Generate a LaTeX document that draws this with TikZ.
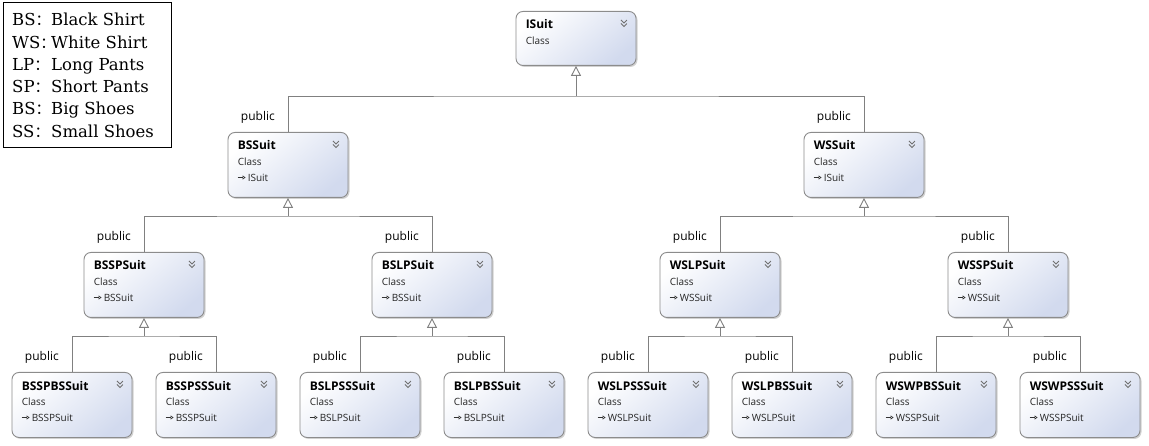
\documentclass[tikz,border=0pt]{standalone}
\usepackage{fontspec}
\setmainfont{Open Sans}
\newfontfamily\legfont{DejaVu Serif}
\newfontfamily\cjk{Noto Sans CJK SC}
\usetikzlibrary{shadows,arrows.meta,calc}
\definecolor{boxblue}{HTML}{D2DAEE}
\definecolor{boxline}{HTML}{8C8C8C}
\definecolor{connc}{HTML}{808080}
\definecolor{chevc}{HTML}{707070}
\tikzset{
  cbox/.style={draw=boxline, line width=0.9pt, rounded corners=7pt,
    minimum width=120pt, anchor=north, inner sep=0pt,
    top color=white, bottom color=boxblue, shading angle=40,
    drop shadow={shadow xshift=1.5pt, shadow yshift=-1.5pt, opacity=0.3, fill=black!60}},
  ttl/.style={anchor=base west, inner sep=0pt, font=\bfseries\fontsize{12}{14}\selectfont},
  sub/.style={anchor=base west, inner sep=0pt, font=\fontsize{10}{12}\selectfont, text=black!85},
  pub/.style={anchor=east, inner sep=0pt, font=\fontsize{12}{14}\selectfont},
  chev/.style={draw=chevc, line width=0.8pt},
  conn/.style={draw=connc, line width=0.9pt},
  inh/.style={conn, -{Triangle[open, length=10pt, width=10pt, line width=0.9pt]}},
  minarr/.style={draw=black!80, line width=0.6pt, -{Triangle[open, length=3pt, width=4pt, line width=0.6pt]}},
  legtext/.style={anchor=base west, inner sep=0pt, font=\legfont\fontsize{16.5}{20}\selectfont},
}
\newcommand\umlbox[5]{% name, x, top, height, title
  \node[cbox, minimum height=#4pt] (#1) at (#2,#3) {};
  \node[ttl] (#1-t) at ($(#1.north west)+(10,18)$) {#5};
  \node[sub] (#1-c) at ($(#1.north west)+(10,34)$) {Class};
  \draw[chev] ($(#1.north east)+(-15.5,9)$) -- ++(3,3) -- ++(3,-3);
  \draw[chev] ($(#1.north east)+(-15.5,12.5)$) -- ++(3,3) -- ++(3,-3);
}
\newcommand\umlchild[6]{% name, x, top, title, parent
  \umlbox{#1}{#2}{#3}{65}{#4}
  \coordinate (#1-a) at ($(#1.north west)+(10,45.5)$);
  \coordinate (#1-b) at ($(#1.north west)+(18,45.5)$);
  \draw[minarr] (#1-a) -- (#1-b);
  \node[sub] (#1-p) at ($(#1.north west)+(20,49.5)$) {#5};
  \node[pub] (#1-l) at ($(#1.north)+(-13,-15)$) {public};
}
\newcommand\family[3]{% parent, child1, child2
  \coordinate (#1-j) at ($(#1.south |- #2.north)+(0,-36)$);
  \draw[conn] (#2.north) |- (#1-j) -| (#3.north);
  \draw[inh] (#1-j) -- (#1.south);
}
\begin{document}
\begin{tikzpicture}[x=1pt, y=-1pt]
\useasboundingbox (0,0) rectangle (1149,446);
% legend
\node[draw=black, line width=0.9pt, anchor=north west, minimum width=168pt, minimum height=145pt, inner sep=0pt] (legend) at (2.5,2) {};
\foreach \i/\a/\b in {1/BS/Black Shirt, 2/WS/White Shirt, 3/LP/Long Pants, 4/SP/Short Pants, 5/BS/Big Shoes, 6/SS/Small Shoes}{
  \node[legtext] (leg\i) at (12, {26+22.25*(\i-1)}) {\makebox[39pt][l]{\a\makebox[0pt][l]{\cjk\fontsize{15}{18}\selectfont ：}}\b};
}
% classes
\umlbox{ISuit}{576}{11}{54}{ISuit}
\umlchild{BSSuit}{288}{132}{BSSuit}{ISuit}{}
\umlchild{WSSuit}{864}{132}{WSSuit}{ISuit}{}
\umlchild{BSSPSuit}{144}{252}{BSSPSuit}{BSSuit}{}
\umlchild{BSLPSuit}{432}{252}{BSLPSuit}{BSSuit}{}
\umlchild{WSLPSuit}{720}{252}{WSLPSuit}{WSSuit}{}
\umlchild{WSSPSuit}{1008}{252}{WSSPSuit}{WSSuit}{}
\umlchild{BSSPBSSuit}{72}{372}{BSSPBSSuit}{BSSPSuit}{}
\umlchild{BSSPSSSuit}{216}{372}{BSSPSSSuit}{BSSPSuit}{}
\umlchild{BSLPSSSuit}{360}{372}{BSLPSSSuit}{BSLPSuit}{}
\umlchild{BSLPBSSuit}{504}{372}{BSLPBSSuit}{BSLPSuit}{}
\umlchild{WSLPSSSuit}{648}{372}{WSLPSSSuit}{WSLPSuit}{}
\umlchild{WSLPBSSuit}{792}{372}{WSLPBSSuit}{WSLPSuit}{}
\umlchild{WSWPBSSuit}{936}{372}{WSWPBSSuit}{WSSPSuit}{}
\umlchild{WSWPSSSuit}{1080}{372}{WSWPSSSuit}{WSSPSuit}{}
% inheritance
\family{ISuit}{BSSuit}{WSSuit}
\family{BSSuit}{BSSPSuit}{BSLPSuit}
\family{WSSuit}{WSLPSuit}{WSSPSuit}
\family{BSSPSuit}{BSSPBSSuit}{BSSPSSSuit}
\family{BSLPSuit}{BSLPSSSuit}{BSLPBSSuit}
\family{WSLPSuit}{WSLPSSSuit}{WSLPBSSuit}
\family{WSSPSuit}{WSWPBSSuit}{WSWPSSSuit}
\end{tikzpicture}
\end{document}
